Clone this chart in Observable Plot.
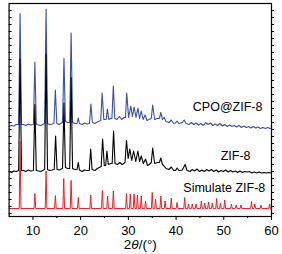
<!DOCTYPE html>
<html><head><meta charset="utf-8">
<script src="https://cdn.jsdelivr.net/npm/d3@7"></script>
<script src="https://cdn.jsdelivr.net/npm/@observablehq/plot@0.6"></script>
<style>body{margin:0;background:#fff}</style>
</head><body><div id="chart"></div>
<script>
// ---- data (2θ in degrees, intensity in arbitrary units) ----
const seriesLabels = ["CPO@ZIF-8", "ZIF-8", "Simulate ZIF-8"];
const axisTitle = "2θ/(°)";
const xTicks = [10, 20, 30, 40, 50, 60];
const xMinorTicks = [15, 25, 35, 45, 55];

const cpoTrace = [[5.0,92],[5.5,93],[6.0,92.5],[6.5,94],[7.0,94],[7.3,205],[7.6,94],[8.0,94],[8.5,93],[9.0,94.5],
[9.5,93.5],[10.1,94],[10.4,156.5],[10.7,94],[11.2,93.5],[11.7,93],[12.2,94.5],[12.45,95],[12.75,209.5],[13.05,95],
[13.5,94],[14.0,94.5],[14.4,95],[14.7,128.5],[15.0,95],[15.5,94],[16.2,96],[16.5,160],[16.8,97],[17.3,96],
[17.7,96],[18.0,185.5],[18.3,96],[18.8,95],[19.25,95],[19.5,100.5],[19.75,95],[20.3,94],[20.8,95.5],[21.3,94.5],
[21.85,95],[22.15,114.5],[22.45,96],[23.0,95],[23.5,96.5],[24.2,98],[24.5,125.5],[24.85,99],[25.35,99],[25.6,109.5],
[25.9,99],[26.3,100],[26.55,100],[26.85,132.5],[27.15,100],[27.6,99],[28.1,102],[28.6,99],[29.1,101],[29.4,101],
[29.65,125.5],[30.05,101],[30.5,112.5],[30.85,102],[31.2,111.5],[31.6,101],[32.0,110.5],[32.35,100],[32.7,107.5],[33.1,99],
[33.5,103.5],[33.9,98],[34.3,99],[34.8,100],[35.1,113.5],[35.5,99],[36.0,100],[36.5,100],[36.8,106],[37.15,99],
[37.5,101],[37.9,97],[38.5,96],[39.0,98.5],[39.5,95],[39.9,95.5],[40.2,97.5],[40.6,95],[41.3,96],[41.7,98.5],
[42.1,95],[42.7,94],[43.2,96],[43.7,94],[44.2,95.5],[44.7,93.5],[45.2,95],[45.7,93],[46.2,96],[46.7,94],
[47.2,95.5],[47.7,93],[48.2,94.5],[48.7,93],[49.2,95],[49.7,92.5],[50.2,94],[50.7,92],[51.2,93.5],[51.7,92],
[52.2,93],[52.7,91.5],[53.2,93],[53.7,91],[54.2,92.5],[54.7,91],[55.2,92],[55.7,90.5],[56.2,92],[56.7,90.5],
[57.2,91.5],[57.7,90],[58.2,91],[58.7,90],[59.2,91],[59.7,90],[60.0,90.5]];

const zifTrace = [[5.0,47],[5.5,46],[6.0,47.5],[6.5,47],[7.0,48],[7.3,159.5],[7.6,48],[8.0,48],[8.5,47],[9.0,48.5],
[9.5,47.5],[10.1,48],[10.4,114],[10.7,48],[11.2,47.5],[11.7,47],[12.2,48.5],[12.45,49],[12.75,164.5],[13.05,49],
[13.5,48],[14.0,48.5],[14.45,49],[14.75,82.5],[15.05,49],[15.5,48.5],[16.2,50],[16.5,115.5],[16.8,51],[17.3,50],
[17.7,50],[18.0,141],[18.3,50],[18.8,49],[19.25,49],[19.5,56],[19.75,48.5],[20.3,47],[20.8,48.5],[21.3,48],
[21.8,48],[22.1,69.5],[22.4,49],[23.0,48],[23.5,50],[24.3,52],[24.6,79.5],[24.95,53],[25.25,53],[25.5,67.5],
[25.8,54],[26.3,55],[26.6,55],[26.9,87.5],[27.2,55],[27.7,54],[28.2,56],[28.7,54],[29.3,56],[29.6,78],
[29.95,60],[30.3,69.5],[30.7,58],[31.1,67.5],[31.55,57],[32.0,67.5],[32.35,57],[32.7,62.5],[33.15,55],[33.6,59.5],
[34.0,53],[34.4,54],[34.8,56],[35.1,70.5],[35.5,55],[36.0,56],[36.5,56],[36.8,60.5],[37.15,54],[37.5,52.5],
[37.9,50],[38.5,49],[39.0,51.5],[39.5,48],[39.9,48],[40.2,50.5],[40.6,48],[41.3,48.5],[41.9,54],[42.3,48],
[42.9,47],[43.4,49],[43.9,47.5],[44.4,49.5],[44.9,47],[45.4,48.5],[45.9,47],[46.4,49],[46.9,47.5],[47.4,49],
[47.9,47],[48.4,48.5],[48.9,46.5],[49.4,48],[49.9,47],[50.4,48.5],[50.9,46.5],[51.4,48],[51.9,46.5],[52.4,47.5],
[52.9,46],[53.4,47.5],[53.9,46],[54.4,47],[54.9,46.5],[55.4,47],[55.9,45.5],[56.4,46.5],[56.9,45.5],[57.4,46.5],
[57.9,45.5],[58.4,46],[58.9,45.5],[59.4,46],[60.0,45.5]];

// simulated pattern: peak positions and peak heights, on a flat baseline
const simBaseline = 10;
const simPeaks = [[7.3,77.5],[10.4,25],[12.75,47.5],[14.7,23],[16.45,40],[18.0,38],[19.5,21],[22.1,23.5],[24.55,28],[25.65,22.5],
[26.85,27.5],[29.6,25],[30.4,24.5],[31.2,24.5],[31.9,23.5],[32.7,22.5],[33.6,17.5],[35.0,26],[35.7,19.5],[36.8,22.5],
[37.7,17.5],[39.0,20.5],[40.2,16],[41.8,21],[42.6,14.5],[43.4,14.5],[44.2,14.5],[45.3,17.5],[46.0,15.5],[46.8,16.5],
[47.6,15.5],[48.5,20],[49.3,15.5],[50.2,18.5],[51.6,14.5],[52.6,13.5],[53.6,13.5],[55.8,17],[56.5,14.5],[57.8,13.5],[59.6,14.5]];

// ---- build simulated line as narrow sticks ----
const simTrace = [[5, simBaseline]];
for (const [px, py] of simPeaks) {
  simTrace.push([px - 0.18, simBaseline], [px, py], [px + 0.18, simBaseline]);
}
simTrace.push([60, simBaseline]);

const W = 282, H = 254, mL = 8.6, mR = 11, mT = 3, mB = 38;
const yTicks = d3.range(5, 215, 7);

const plot = Plot.plot({
  width: W, height: H,
  marginLeft: mL, marginRight: mR, marginTop: mT, marginBottom: mB,
  style: {fontFamily: "Arial, 'Liberation Sans', sans-serif", fontSize: "13px", background: "#fff", color: "#000", overflow: "visible"},
  x: {domain: [5, 60]},
  y: {domain: [2, 215]},
  marks: [
    Plot.line(cpoTrace, {x: d => d[0], y: d => d[1], stroke: "#3d4ea3", strokeWidth: 1.1}),
    Plot.line(zifTrace, {x: d => d[0], y: d => d[1], stroke: "#000", strokeWidth: 1.1}),
    Plot.line(simTrace, {x: d => d[0], y: d => d[1], stroke: "#e8232b", strokeWidth: 1}),
    Plot.frame({stroke: "#000", strokeWidth: 1.2}),
    Plot.axisX(xTicks, {anchor: "bottom", tickSize: 4, tickPadding: 5, fontSize: 13, label: null}),
    Plot.axisX(xMinorTicks, {anchor: "bottom", tickSize: 2, tickFormat: () => "", label: null}),
    Plot.ruleY(yTicks, {insetRight: W - mL - mR - 3, stroke: "#000", strokeWidth: 1}),
    Plot.axisY(yTicks, {anchor: "right", tickSize: 2, tickFormat: () => "", label: null}),
    Plot.text([seriesLabels[0]], {x: 58.1, y: 112, text: d => d, textAnchor: "end", fontSize: 12.5}),
    Plot.text([seriesLabels[1]], {x: 55.6, y: 63, text: d => d, textAnchor: "end", fontSize: 12.5}),
    Plot.text([seriesLabels[2]], {x: 58.7, y: 30.3, text: d => d, textAnchor: "end", fontSize: 12.5}),
    Plot.text([axisTitle], {frameAnchor: "bottom", dy: 32, text: d => d, fontSize: 13.5, className: "xtitle"})
  ]
});
document.getElementById("chart").appendChild(plot);

// italic theta in the axis title
d3.select(plot).selectAll(".xtitle text").each(function() {
  const t = d3.select(this);
  t.text(null);
  t.append("tspan").text("2");
  t.append("tspan").attr("font-style", "italic").text("θ");
  t.append("tspan").text("/(°)");
});
</script>
</body></html>
